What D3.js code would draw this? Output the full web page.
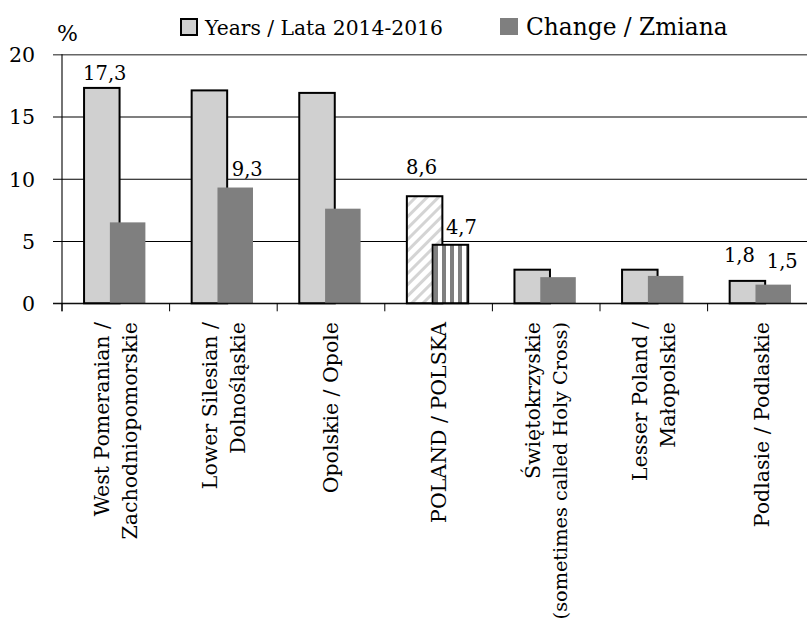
<!DOCTYPE html>
<html>
<head>
<meta charset="utf-8">
<script src="https://cdn.jsdelivr.net/npm/d3@7"></script>
<style>
  html, body { margin: 0; padding: 0; background: #fff; }
  text { font-family: "DejaVu Serif", serif; fill: #000; }
</style>
</head>
<body>
<div id="chart"></div>
<script>
// regions (two lines each where the label wraps)
const categories = ["WP", "LS", "OP", "PL", "SW", "LP", "PD"];
const categoryLines = [
  ["West Pomeranian /", "Zachodniopomorskie"],
  ["Lower Silesian /", "Dolnośląskie"],
  ["Opolskie / Opole"],
  ["POLAND / POLSKA"],
  ["Świętokrzyskie", "(sometimes called Holy Cross)"],
  ["Lesser Poland /", "Małopolskie"],
  ["Podlasie / Podlaskie"]
];
const seriesNames = ["Years / Lata 2014-2016", "Change / Zmiana"];
const yearsValues = [17.3, 17.1, 16.9, 8.6, 2.7, 2.7, 1.8];
const changeValues = [6.5, 9.3, 7.6, 4.7, 2.1, 2.2, 1.5];
const yTicks = [0, 5, 10, 15, 20];

// which bars carry a value label: [category index, series index]
const labelled = [[0, 0], [1, 1], [3, 0], [3, 1], [6, 0], [6, 1]];
// hand nudges of those labels (dx, dy) as in the original
const labelNudge = [[3, -8], [12, -12], [-3, -22], [11, -11], [-8, -19], [9, -17]];

const width = 807, height = 628;
const plot = { left: 62, top: 54.3, bottom: 303.3 };
const step = 107.6;

const svg = d3.select("#chart").append("svg")
  .attr("width", width)
  .attr("height", height);

const defs = svg.append("defs");
const diag = defs.append("pattern")
  .attr("id", "diag")
  .attr("patternUnits", "userSpaceOnUse")
  .attr("width", 8).attr("height", 8)
  .attr("patternTransform", "rotate(45)");
diag.append("rect").attr("width", 8).attr("height", 8).attr("fill", "#fff");
diag.append("rect").attr("width", 3).attr("height", 8).attr("fill", "#d4d4d4");

const vert = defs.append("pattern")
  .attr("id", "vert")
  .attr("patternUnits", "userSpaceOnUse")
  .attr("width", 8).attr("height", 8);
vert.append("rect").attr("width", 8).attr("height", 8).attr("fill", "#fff");
vert.append("rect").attr("x", 2).attr("width", 4).attr("height", 8).attr("fill", "#7f7f7f");

const x0 = d3.scaleBand()
  .domain(categories)
  .range([plot.left, plot.left + step * categories.length])
  .paddingInner(0).paddingOuter(0);

const x1 = d3.scalePoint()
  .domain([0, 1])
  .range([step * 0.205, step * 0.445]);
const barW = step * 0.33;

const y = d3.scaleLinear().domain([0, 20]).range([plot.bottom, plot.top]);

const fmt = d3.formatLocale({ decimal: ",", thousands: " ", grouping: [3], currency: ["", ""] }).format(".1f");

// gridlines + y ticks
const yAxis = svg.append("g")
  .attr("transform", `translate(${plot.left},0)`)
  .call(d3.axisLeft(y).tickValues(yTicks).tickSize(-(width - plot.left)).tickPadding(27).tickFormat(d3.format("d")));
yAxis.select(".domain").remove();
yAxis.selectAll(".tick line")
  .attr("x1", -9)
  .attr("stroke", d => d === 20 ? "#666" : "#000")
  .attr("stroke-width", d => d === 20 ? 1.6 : 1.1);
yAxis.selectAll(".tick text")
  .style("font-family", "DejaVu Serif")
  .style("font-size", "20.5px")
  .attr("dy", "0.36em");

svg.append("text")
  .attr("x", 57).attr("y", 41)
  .style("font-size", "22px")
  .text("%");

// bars
const series = [yearsValues, changeValues];
series.forEach((vals, s) => {
  svg.append("g").selectAll("rect")
    .data(vals)
    .join("rect")
    .attr("x", (d, i) => x0(categories[i]) + x1(s))
    .attr("y", d => y(d))
    .attr("width", barW)
    .attr("height", d => y(0) - y(d))
    .attr("fill", (d, i) => categories[i] === "PL" ? (s === 0 ? "url(#diag)" : "url(#vert)") : (s === 0 ? "#d0d0d0" : "#7f7f7f"))
    .attr("stroke", (d, i) => (s === 0 || categories[i] === "PL") ? "#000" : "none")
    .attr("stroke-width", 2);
});

// x axis
const xAxis = svg.append("g")
  .attr("transform", `translate(0,${plot.bottom})`);
xAxis.append("line")
  .attr("x1", plot.left - 9).attr("x2", width)
  .attr("stroke", "#000").attr("stroke-width", 1.1);
xAxis.selectAll("line.tk")
  .data(d3.range(categories.length + 1))
  .join("line")
  .attr("class", "tk")
  .attr("x1", i => plot.left + i * x0.step())
  .attr("x2", i => plot.left + i * x0.step())
  .attr("y1", 0).attr("y2", 8)
  .attr("stroke", "#000").attr("stroke-width", 1);

// y axis line
svg.append("line")
  .attr("x1", plot.left).attr("x2", plot.left)
  .attr("y1", plot.top).attr("y2", plot.bottom + 8)
  .attr("stroke", "#000").attr("stroke-width", 1.1);

// category labels, rotated
const catG = svg.append("g").selectAll("g")
  .data(categories)
  .join("g")
  .attr("transform", d => `translate(${x0(d) + x0.bandwidth() / 2},322) rotate(-90)`);
catG.each(function(d, i) {
  const lines = categoryLines[i];
  const n = lines.length;
  d3.select(this).selectAll("text")
    .data(lines)
    .join("text")
    .attr("text-anchor", "end")
    .attr("x", 0)
    .attr("y", (t, j) => (j - (n - 1) / 2) * 27.5)
    .attr("dy", "0.36em")
    .style("font-size", t => t.length > 25 ? "19.3px" : "20.5px")
    .text(t => t);
});

// value labels
svg.append("g").selectAll("text")
  .data(labelled)
  .join("text")
  .attr("text-anchor", "middle")
  .attr("x", (d, k) => x0(categories[d[0]]) + x1(d[1]) + barW / 2 + labelNudge[k][0])
  .attr("y", (d, k) => y(series[d[1]][d[0]]) + labelNudge[k][1])
  .style("font-size", "19.5px")
  .text(d => fmt(series[d[1]][d[0]]));

// legend
const legend = svg.append("g");
legend.append("rect")
  .attr("x", 181).attr("y", 19).attr("width", 16).attr("height", 16)
  .attr("fill", "#d0d0d0").attr("stroke", "#000").attr("stroke-width", 2);
legend.append("text")
  .attr("x", 205).attr("y", 35)
  .style("font-size", "20.3px")
  .text(seriesNames[0]);
legend.append("rect")
  .attr("x", 500).attr("y", 18).attr("width", 18).attr("height", 17)
  .attr("fill", "#7f7f7f");
legend.append("text")
  .attr("x", 526).attr("y", 35)
  .style("font-size", "23.3px")
  .text(seriesNames[1]);
</script>
</body>
</html>
